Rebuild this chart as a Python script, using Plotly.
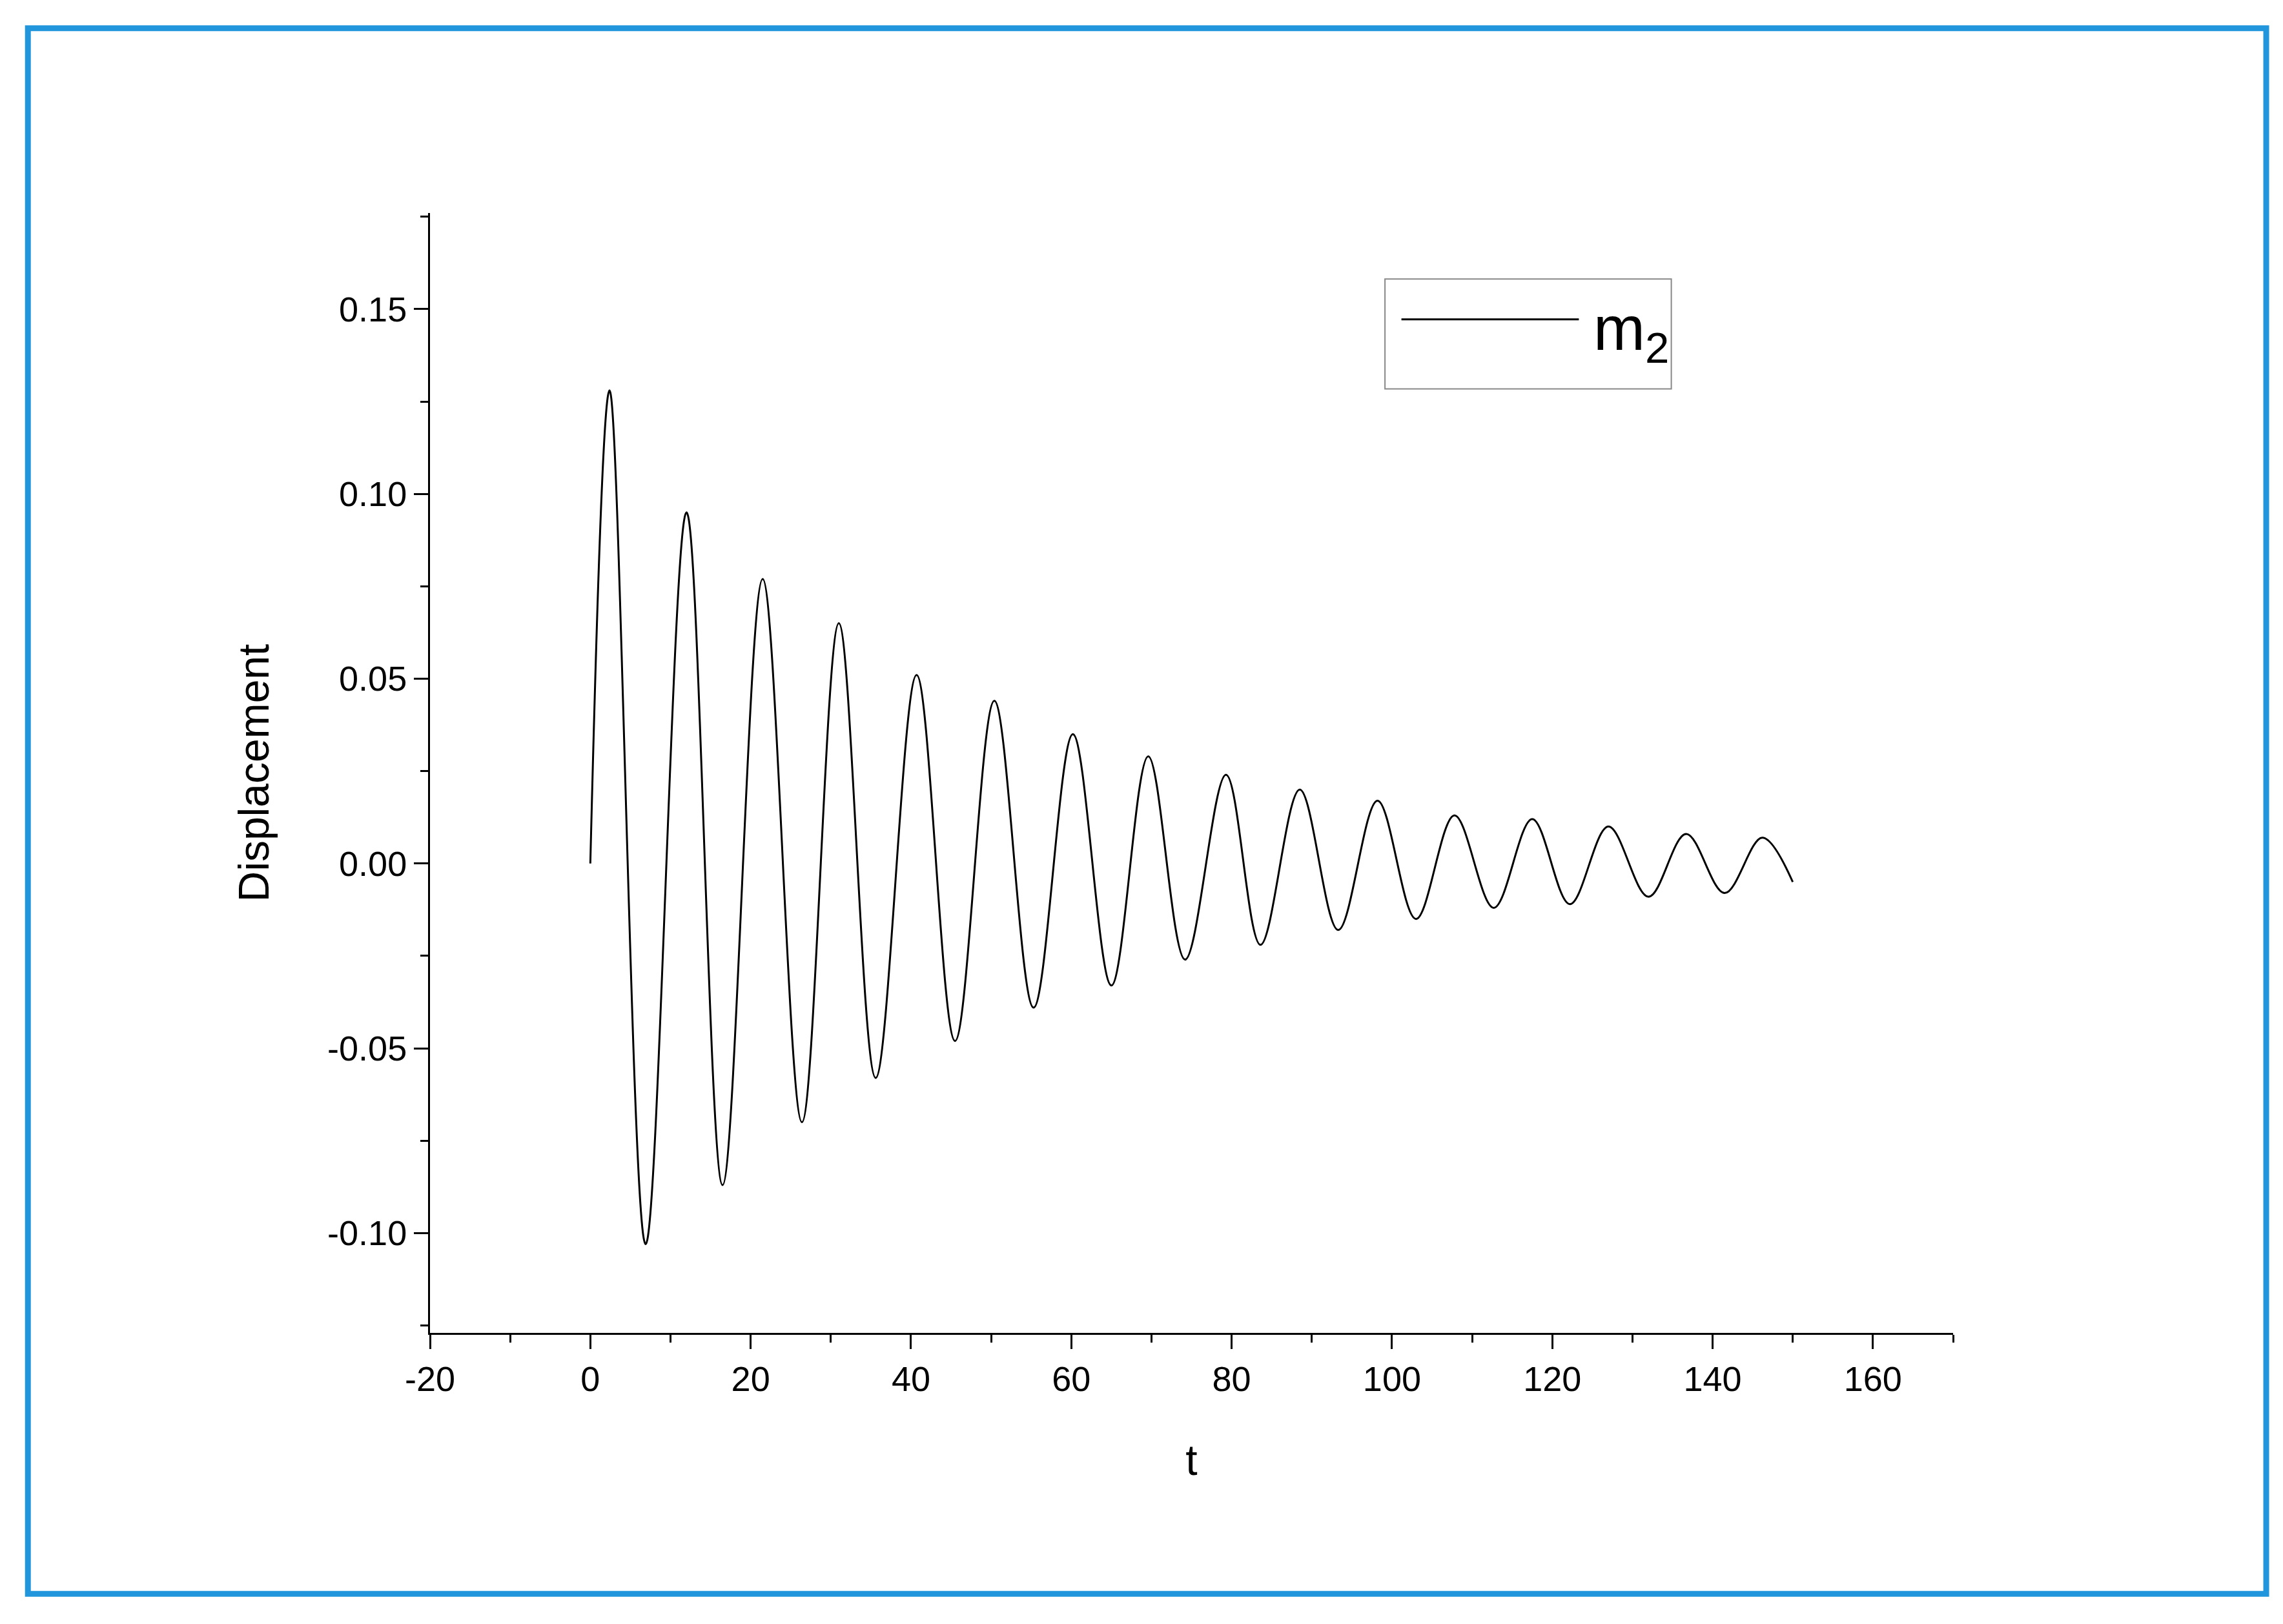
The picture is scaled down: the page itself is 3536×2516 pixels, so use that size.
import plotly.graph_objects as go

t_ext = [0, 2.4, 6.9, 12.0, 16.5, 21.5, 26.4, 31.0, 35.6, 40.7, 45.5, 50.4, 55.3, 60.2, 65.0,
         69.6, 74.2, 79.3, 83.6, 88.5, 93.3, 98.2, 103.0, 107.8, 112.7, 117.5, 122.2, 127.0,
         132.0, 136.7, 141.5, 146.2, 150.0]
d_ext = [0.0, 0.128, -0.103, 0.095, -0.087, 0.077, -0.070, 0.065, -0.058, 0.051, -0.048, 0.044,
         -0.039, 0.035, -0.033, 0.029, -0.026, 0.024, -0.022, 0.020, -0.018, 0.017, -0.015,
         0.013, -0.012, 0.012, -0.011, 0.010, -0.009, 0.008, -0.008, 0.007, -0.005]
x_ticks = [-20, 0, 20, 40, 60, 80, 100, 120, 140, 160]
x_labels = ["-20", "0", "20", "40", "60", "80", "100", "120", "140", "160"]
y_ticks = [-0.10, -0.05, 0.00, 0.05, 0.10, 0.15]
y_labels = ["-0.10", "-0.05", "0.00", "0.05", "0.10", "0.15"]

fig = go.Figure(go.Scatter(x=t_ext, y=d_ext, mode="lines", line=dict(color="black", width=3, shape="spline", smoothing=1.0), name="m2", showlegend=False))

font = "Liberation Sans, Arial"
axcommon = dict(showgrid=False, zeroline=False, showline=True, linecolor="black", linewidth=3,
                ticks="outside", ticklen=22, tickwidth=3, tickcolor="black",
                tickfont=dict(size=54, color="black", family=font))
fig.update_xaxes(range=[-20, 170], tickvals=x_ticks, ticktext=x_labels,
                 title=dict(text="t", font=dict(size=66, family=font, color="black"), standoff=75),
                 minor=dict(dtick=10, ticklen=12, tickwidth=3, tickcolor="black", ticks="outside"), **axcommon)
fig.update_yaxes(range=[-0.127, 0.176], tickvals=y_ticks, ticktext=y_labels,
                 title=dict(text="Displacement", font=dict(size=66, family=font, color="black"), standoff=70),
                 minor=dict(dtick=0.025, ticklen=12, tickwidth=3, tickcolor="black", ticks="outside"), **axcommon)

shapes = [
    dict(type="rect", xref="paper", yref="paper", x0=-0.264, x1=1.2056, y0=-0.233, y1=1.165,
         line=dict(color="#2196dc", width=9), fillcolor="rgba(0,0,0,0)"),
    dict(type="rect", xref="paper", yref="paper", x0=0.627, x1=0.815, y0=0.843, y1=0.941,
         line=dict(color="#888888", width=2)),
    dict(type="line", xref="paper", yref="paper", x0=0.6378, x1=0.7543, y0=0.905, y1=0.905,
         line=dict(color="black", width=3)),
]
fig.update_layout(
    width=3536, height=2516, paper_bgcolor="white", plot_bgcolor="white",
    margin=dict(l=658, r=519, t=322, b=459), shapes=shapes,
    annotations=[dict(xref="paper", yref="paper", x=0.763, y=0.893, xanchor="left", yanchor="middle",
                      text="m<sub>2</sub>", showarrow=False, font=dict(size=96, family=font, color="black"))],
)
fig.write_html("out.html")
